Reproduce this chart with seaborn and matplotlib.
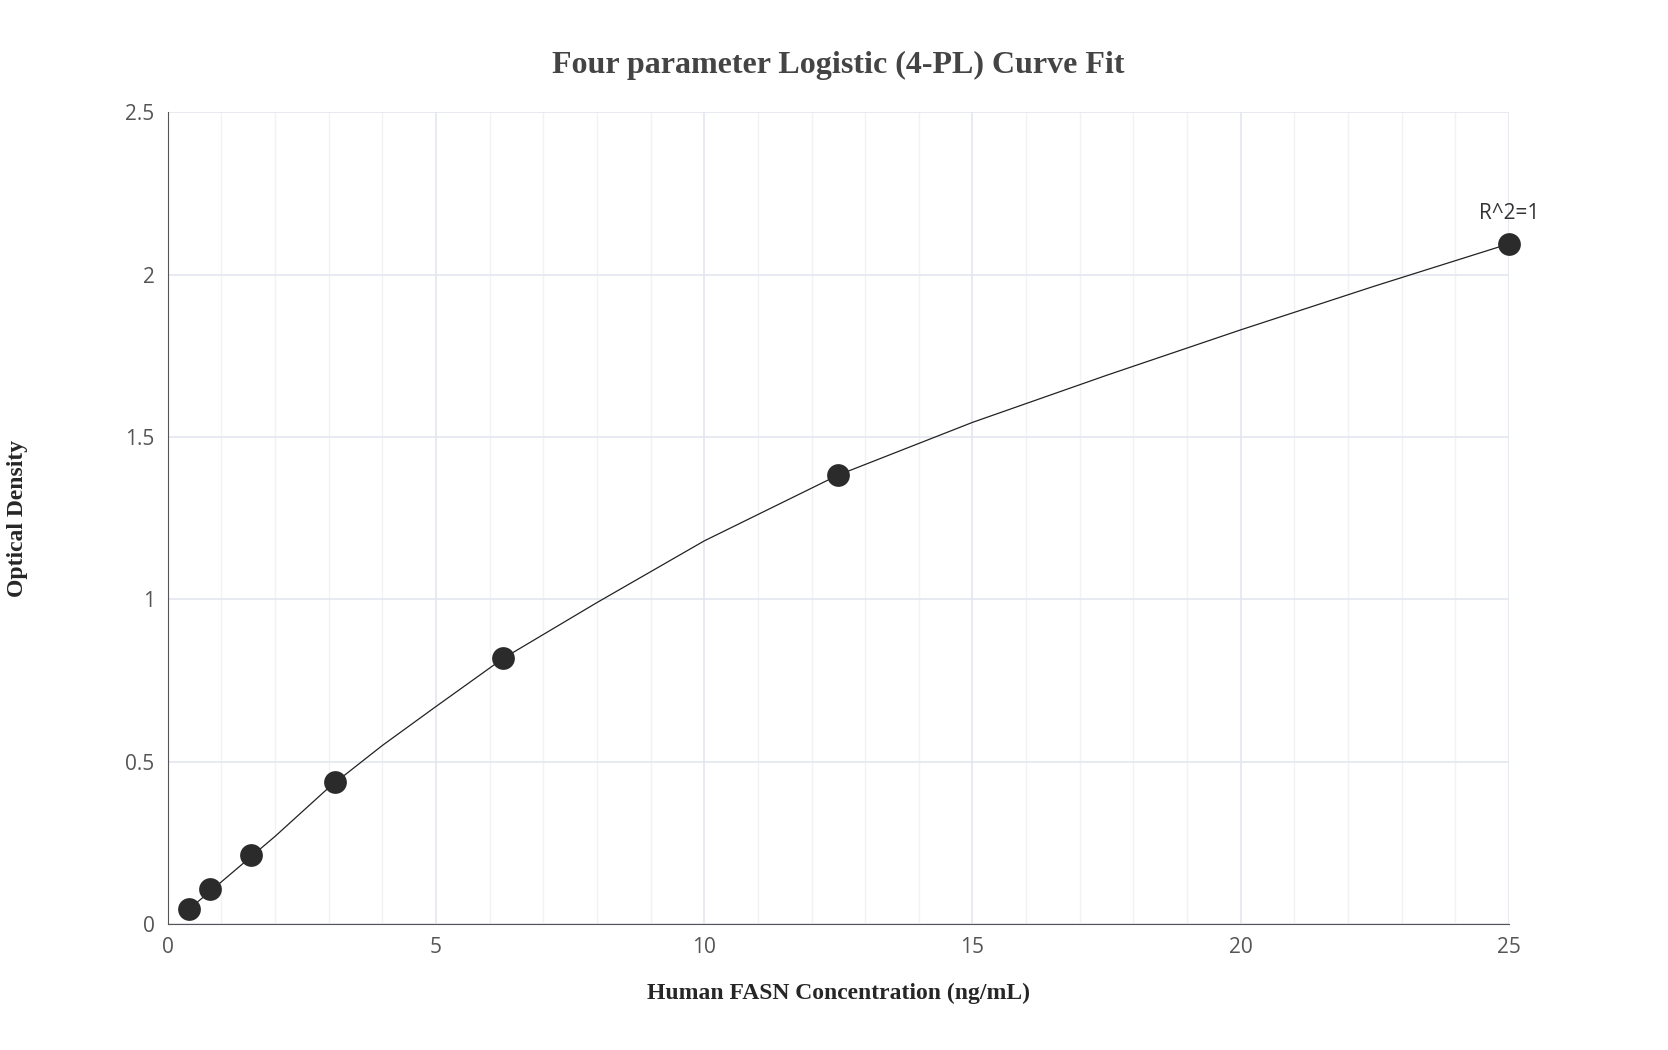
import matplotlib
matplotlib.use("Agg")
import matplotlib.pyplot as plt
import seaborn as sns
from matplotlib.ticker import MultipleLocator, FuncFormatter

# standard points
conc = [0.39, 0.78, 1.56, 3.125, 6.25, 12.5, 25]
od = [0.045, 0.107, 0.213, 0.438, 0.818, 1.383, 2.095]

# fitted curve
curve_x = [0.39, 1, 2, 3, 4, 5, 6.25, 8, 10, 12.5, 15, 17.5, 20, 22.5, 25]
curve_y = [0.045, 0.13, 0.27, 0.42, 0.55, 0.67, 0.818, 0.99, 1.18, 1.383, 1.545, 1.69, 1.83, 1.965, 2.095]

sns.set_style("white")
fig = plt.figure(figsize=(16.68, 10.5), dpi=100)
ax = fig.add_axes([0.1006, 0.12, 0.804, 0.773])

sns.lineplot(x=curve_x, y=curve_y, ax=ax, color="#222222", linewidth=0.9)
sns.scatterplot(x=conc, y=od, ax=ax, s=230, color="#2b2b2b", edgecolor="#2b2b2b",
                zorder=5, clip_on=False)
ax.annotate("R^2=1", (conc[-1], od[-1]), xytext=(0, 14), textcoords="offset points",
            ha="center", va="bottom", fontsize=15, color="#333333", family="Open Sans")

ax.set_xlim(0, 25)
ax.set_ylim(0, 2.5)
ax.xaxis.set_major_locator(MultipleLocator(5))
ax.xaxis.set_minor_locator(MultipleLocator(1))
ax.yaxis.set_major_locator(MultipleLocator(0.5))
ax.yaxis.set_major_formatter(FuncFormatter(lambda v, p: f"{v:g}"))
ax.grid(which="major", color="#e3e6ee", linewidth=1.2)
ax.grid(which="minor", axis="x", color="#f1f2f6", linewidth=1)
ax.set_axisbelow(True)
for s in ["top", "right"]:
    ax.spines[s].set_visible(False)
for s in ["left", "bottom"]:
    ax.spines[s].set_color("#555555")
ax.tick_params(which="major", length=6, color="#555555", labelsize=15, labelcolor="#555555")
ax.tick_params(which="minor", length=0)
for lab in ax.get_xticklabels() + ax.get_yticklabels():
    lab.set_family("Open Sans")

ax.set_xlabel("Human FASN Concentration (ng/mL)", fontsize=17, fontweight="bold",
              family="Liberation Serif", labelpad=18)
ax.set_ylabel("Optical Density", fontsize=17, fontweight="bold",
              family="Liberation Serif", labelpad=70)
ax.set_title("Four parameter Logistic (4-PL) Curve Fit", fontsize=23, fontweight="bold",
             family="Liberation Serif", color="#444444", pad=28)

fig.savefig("out.png", dpi=100)
